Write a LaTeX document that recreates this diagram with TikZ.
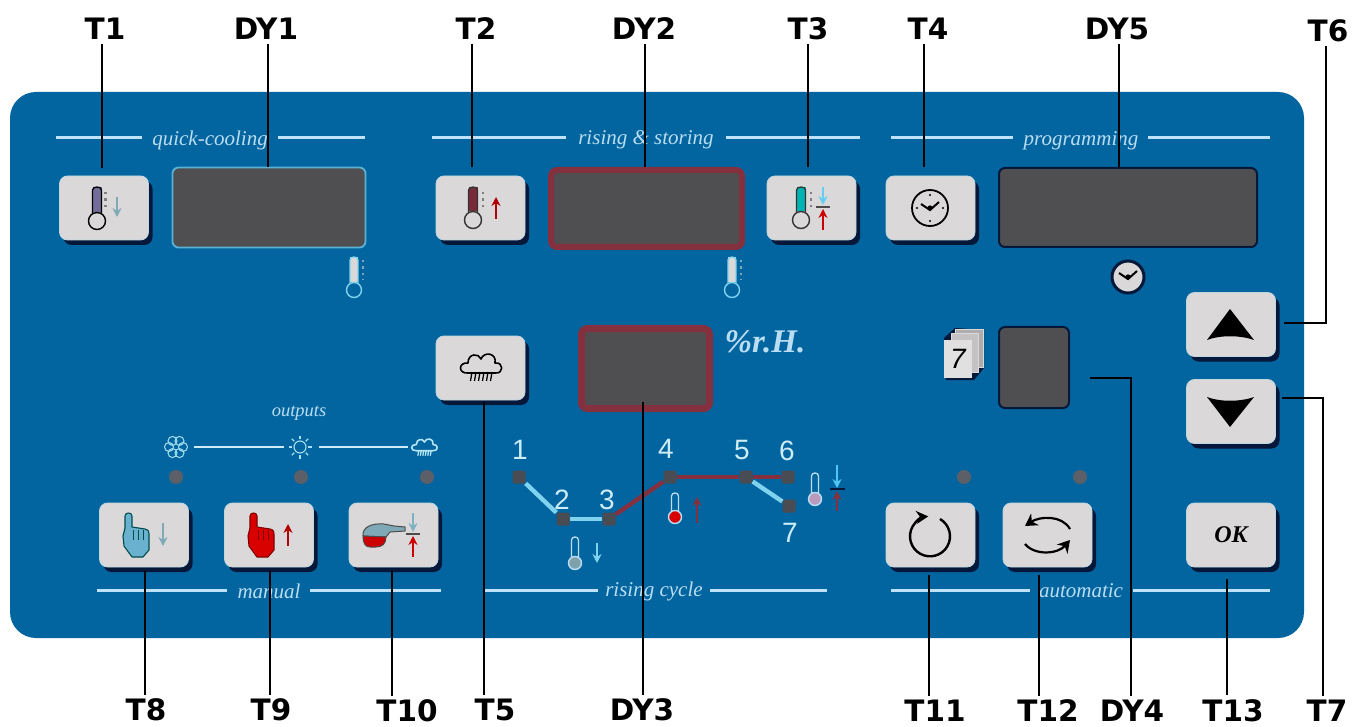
\documentclass[tikz,border=0pt]{standalone}
\usepackage{fontspec}
\setmainfont{Liberation Serif}
\newfontfamily\labfont{DejaVu Sans}
\newfontfamily\digfont{Liberation Sans}
\usetikzlibrary{shadows,arrows.meta}
\definecolor{panelc}{HTML}{03659F}
\definecolor{btnc}{HTML}{DAD8D9}
\definecolor{shc}{HTML}{06183A}
\definecolor{dispc}{HTML}{4F4F51}
\definecolor{linec}{HTML}{BDE2FA}
\definecolor{txtc}{HTML}{B9DDF2}
\definecolor{redd}{HTML}{84303F}
\definecolor{ledc}{HTML}{5D5F68}
\definecolor{cyanl}{HTML}{7FD3EE}
\tikzset{
  btn/.style={rectangle,rounded corners=8pt,minimum width=89pt,minimum height=64pt,inner sep=0pt,
    fill=btnc,draw=btnc!70!cyanl,line width=.8pt,
    drop shadow={shadow xshift=4pt,shadow yshift=-5pt,fill=shc,opacity=1}},
  disp/.style={rectangle,rounded corners=6pt,inner sep=0pt,fill=dispc},
  lab/.style={font=\labfont\bfseries\fontsize{29.5}{29.5}\selectfont,inner sep=0pt,outer sep=4pt,text=black},
  conn/.style={draw=black,line width=2.2pt},
  secline/.style={draw=linec,line width=3pt},
  sect/.style={font=\itshape\fontsize{21}{21}\selectfont,text=txtc,inner sep=0pt},
  led/.style={circle,fill=ledc,minimum size=14pt,inner sep=0pt},
  dot/.style={rectangle,rounded corners=2pt,fill=ledc!80!black,minimum size=13pt,inner sep=0pt},
  digit/.style={font=\digfont\fontsize{28}{28}\selectfont,text=cyanl!40!white,inner sep=0pt},
  cyc/.style={line width=4.4pt},
}
% bulb x, bulb y, bulb r, half tube, tube top, tube fill, outline, bulb fill
\newcommand\thermoicon[8]{%
  \fill[#6] (#1-#4,#2-#3) rectangle (#1+#4,#5);
  \draw[#7,line width=1.3pt] (#1-#4,#2-#3+1) -- (#1-#4,#5+3) .. controls (#1-#4,#5-1) and (#1+#4,#5-1) .. (#1+#4,#5+3) -- (#1+#4,#2-#3+1);
  \draw[#7,fill=#8,line width=1.4pt] (#1,#2) circle[radius=#3];
}
\newcommand\tickdots[4]{% x, y1, y2, colour
  \draw[#4,line width=2.4pt,dash pattern=on 2.5pt off 4pt] (#1,#2) -- (#1,#3);
}
\newcommand\varrow[4]{% colour, x, from, to
  \draw[#1,line width=1.5pt,-{Stealth[length=9pt,width=9pt]}] (#2,#3) -- (#2,#4);
}
\newcommand\cloudicon[4]{% x,y,scale,colour
  \begin{scope}[shift={(#1,#2)},scale=#3]
    \draw[#4,line width=1.6pt,line join=round] (-14,6) .. controls (-24,7) and (-24,-5) .. (-14,-4) .. controls (-14,-14) and (-3,-14) .. (-1,-8) .. controls (2,-16) and (15,-14) .. (13,-4) .. controls (22,-5) and (22,7) .. (13,6) -- (-14,6);
    \foreach \xx in {-10,-6,-2,2,6,10}
      \draw[#4,line width=1.3pt] (\xx,5) -- (\xx-1.5,14);
  \end{scope}
}
\newcommand\handicon[4]{% x,y,fill,outline
  \begin{scope}[shift={(#1,#2)}]
    \draw[#4,fill=#3,line width=1.1pt,line join=round] (-11,-14) -- (-11,-26) .. controls (-11,-30) and (-4,-30) .. (-4,-26) -- (-4,-15) -- (9,-13) .. controls (13,-12) and (13,-10) .. (13,-8) -- (13,8) -- (7,15) -- (-4,15) -- (-12,4) -- (-13,-6) -- cycle;
    \foreach \xx in {-3,2,7}
      \draw[#4,line width=1pt] (\xx,-12) -- (\xx,-2);
  \end{scope}
}
\newcommand\clockhands[3]{% x,y,colour
  \draw[#3,line width=2pt,line join=miter] (#1-9,#2-4) -- (#1,#2+2) -- (#1+9,#2-6);
  \fill[#3] (#1,#2) circle[radius=2.6];
  \foreach \aa in {0,90,180,270}
    \fill[#3] (#1,#2)++(\aa:13) circle[radius=1.2];
}
\begin{document}
\begin{tikzpicture}[x=1pt,y=-1pt]
\useasboundingbox (0,0) rectangle (1352,727);
\fill[white] (0,0) rectangle (1352,727);
\node[rectangle,rounded corners=26pt,fill=panelc,minimum width=1294pt,minimum height=546pt,inner sep=0pt] (panel) at (657,365) {};

% section rules and titles
\draw[secline] (56,138) -- (142,138) (278,138) -- (365,138);
\draw[secline] (432,138) -- (566,138) (726,138) -- (860,138);
\draw[secline] (891,138) -- (1013,138) (1148,138) -- (1270,138);
\draw[secline] (97,590) -- (227,590) (310,590) -- (441,590);
\draw[secline] (484,590) -- (598,590) (710,590) -- (827,590);
\draw[secline] (891,590) -- (1030,590) (1133,590) -- (1270,590);
\node[sect] (s1) at (210,140) {quick-cooling};
\node[sect] (s2) at (646,140) {rising \& storing};
\node[sect] (s3) at (1081,141) {programming};
\node[sect] (s4) at (269,591) {manual};
\node[sect] (s5) at (654,591) {rising cycle};
\node[sect] (s6) at (1081,591) {automatic};
\node[sect,font=\itshape\fontsize{18.5}{18.5}\selectfont] (s7) at (299,413) {outputs};
\node[font=\bfseries\itshape\fontsize{33}{33}\selectfont,text=txtc,inner sep=0pt] (rh) at (765,342) {\%r.H.};

% displays
\node[disp,draw=cyanl!70!panelc,line width=1.8pt,minimum width=193pt,minimum height=80pt] (DY1) at (269,207.5) {};
\node[disp,draw=redd,line width=6pt,minimum width=191pt,minimum height=77pt] (DY2) at (646.5,208.5) {};
\node[disp,draw=shc,line width=2pt,minimum width=258pt,minimum height=79pt] (DY5) at (1128,207.5) {};
\node[disp,draw=redd,line width=7pt,minimum width=128pt,minimum height=80pt] (DY3) at (645.5,368.5) {};
\node[disp,draw=shc,line width=2pt,minimum width=70pt,minimum height=81pt] (DY4) at (1034,367.5) {};

% buttons
\node[btn] (T1) at (104,208) {};
\node[btn] (T2) at (480.5,208) {};
\node[btn] (T3) at (811.5,208) {};
\node[btn] (T4) at (930.5,208) {};
\node[btn] (T5) at (480.5,368) {};
\node[btn] (T6) at (1231,324.5) {};
\node[btn] (T7) at (1231,411.5) {};
\node[btn] (T8) at (144,535) {};
\node[btn] (T9) at (269,535) {};
\node[btn] (T10) at (393.5,535) {};
\node[btn] (T11) at (930.5,535) {};
\node[btn] (T12) at (1047.5,535) {};
\node[btn,font=\bfseries\itshape\fontsize{24}{24}\selectfont] (T13) at (1231,535) {OK};

% button icons
\thermoicon{97}{221}{8.5}{4.5}{187}{cyan!10!blue!40!gray}{black}{btnc}
\tickdots{105.5}{192}{210}{gray}
\varrow{cyanl!50!gray}{117}{197}{217}

\thermoicon{473}{220}{8.5}{4.5}{187}{redd!90!black}{black!80}{btnc}
\tickdots{483}{192}{210}{gray}
\varrow{red!70!black}{496}{219}{197}

\thermoicon{801}{220}{8.5}{4.5}{187}{teal!60!cyan}{black!80}{btnc}
\tickdots{811}{192}{210}{gray}
\varrow{cyan!60!white}{823}{187}{205}
\draw[black!70,line width=1.4pt] (816,207) -- (830,207);
\varrow{red!80!black}{823}{230}{209}

\draw[black,line width=1.8pt] (930,208) circle[radius=18];
\clockhands{930}{208}{black}

\cloudicon{482}{367}{1}{black}

\fill[black] (1230,309) -- (1254,340) .. controls (1240,335) and (1220,335) .. (1207,340) -- cycle;
\fill[black] (1230,427) -- (1254,397) .. controls (1240,402) and (1220,402) .. (1207,397) -- cycle;

\handicon{136}{542}{cyan!45!teal!70!white}{teal!60!black}
\varrow{cyanl!50!gray}{163}{523}{546}
\handicon{261}{542}{red!85!black}{red!50!black}
\varrow{red!70!black}{288}{546}{524}

% pan-like hand of T10
\draw[black!70,fill=cyanl!50!gray,line width=1pt,line join=round] (363,536) .. controls (362,527) and (372,523) .. (384,524) -- (394,526) -- (405,527) -- (405,531) -- (390,532) -- (386,537) -- cycle;
\draw[black!70,fill=red!80!black,line width=1pt] (363,536) -- (386,537) .. controls (386,544) and (382,547) .. (376,547) -- (370,547) .. controls (365,547) and (363,543) .. (363,536) -- cycle;
\varrow{cyanl!60!gray}{413}{513}{532}
\draw[black!70,line width=1.4pt] (406,534) -- (420,534);
\varrow{red!80!black}{413}{557}{536}

\draw[black,line width=2.4pt,-{Stealth[length=12pt,width=13pt]}] (940,519) arc[start angle=-60,end angle=265,radius=20] ;
\draw[black,line width=2.2pt,-{Stealth[length=12pt,width=14pt]}] (1070,529) .. controls (1062,515) and (1040,516) .. (1025,526);
\draw[black,line width=2.2pt,-{Stealth[length=12pt,width=14pt]}] (1025,544) .. controls (1035,556) and (1058,554) .. (1070,540);

% status icons on the panel
\thermoicon{354}{290}{7.5}{4}{257}{btnc}{cyanl}{panelc}
\tickdots{363}{260}{280}{cyanl!50!gray}
\thermoicon{732}{290}{7.5}{4}{257}{btnc}{cyanl}{panelc}
\tickdots{741}{260}{280}{cyanl!50!gray}

\draw[shc,fill=btnc,line width=3pt] (1128,277) circle[radius=16];
\draw[black,line width=2pt] (1119,273) -- (1128,279) -- (1137,271);
\fill[black] (1128,277) circle[radius=2.6];

% page stack
\fill[shc] (946,380) -- (974,380) -- (984,368) -- (984,330) -- (955,328) -- (944,338) -- cycle;
\draw[btnc,fill=btnc!80!black,line width=.6pt] (955,329) rectangle (983,367);
\draw[btnc,fill=btnc!90!black,line width=.6pt] (951,333) rectangle (978,372);
\node[rectangle,fill=btnc!80!white,minimum width=28pt,minimum height=38pt,inner sep=0pt,font=\digfont\itshape\fontsize{28}{28}\selectfont] (page) at (958,359) {7};

% outputs
\draw[draw=cyanl!40!white,line width=2.6pt] (194,447) -- (284,447) (319,447) -- (408,447);
\foreach \aa in {0,60,...,300}
  \draw[cyanl!70!white,line width=1pt] (176,447)++(\aa:7) circle[radius=4.5];
\draw[cyanl!70!white,line width=1.1pt] (300,447) circle[radius=6];
\foreach \aa in {0,45,...,315}
  \draw[cyanl!70!white,line width=1.1pt] (300,447)++(\aa:8) -- ++(\aa:3.5);
\cloudicon{425}{447}{.62}{cyanl!60!white}
\node[led] (L1) at (176,477) {};
\node[led] (L2) at (301,477) {};
\node[led] (L3) at (427,477) {};
\node[led] (L4) at (964,477) {};
\node[led] (L5) at (1080,477) {};

% rising cycle
\node[dot] (n1) at (519,477) {};
\node[dot] (n2) at (563,519) {};
\node[dot] (n3) at (609,519) {};
\node[dot] (n4) at (670,477) {};
\node[dot] (n5) at (746,477) {};
\node[dot] (n6) at (788,477) {};
\node[dot] (n7) at (789,506) {};
\draw[cyc,cyanl] (n1) -- (n2);
\draw[cyc,cyanl] (n2) -- (n3);
\draw[cyc,redd] (n3) -- (n4);
\draw[cyc,redd] (n4) -- (n5);
\draw[cyc,redd] (n5) -- (n6);
\draw[cyc,cyanl] (n5) -- (n7);
\node[digit] (d1) at (520,450) {1};
\node[digit] (d2) at (562,500) {2};
\node[digit] (d3) at (607,500) {3};
\node[digit] (d4) at (666,449) {4};
\node[digit] (d5) at (742,450) {5};
\node[digit] (d6) at (787,451) {6};
\node[digit] (d7) at (790,533) {7};
\thermoicon{575}{563}{6.5}{3.5}{537}{panelc}{txtc}{cyanl!40!gray}
\varrow{cyanl}{597}{543}{563}
\thermoicon{675}{517}{6.5}{3.5}{493}{panelc}{txtc}{red!85!black}
\varrow{redd}{697}{523}{497}
\thermoicon{815}{499}{6.5}{3.5}{473}{panelc}{txtc}{txtc!70!purple}
\varrow{cyan!70!white}{837}{465}{488}
\draw[shc,line width=1.4pt] (830,489) -- (845,489);
\varrow{redd}{837}{511}{491}

% callout labels
\node[lab] (lT1) at (105,29) {T1};
\node[lab] (lDY1) at (266,29) {DY1};
\node[lab] (lT2) at (476,29) {T2};
\node[lab] (lDY2) at (644,29) {DY2};
\node[lab] (lT3) at (808,29) {T3};
\node[lab] (lT4) at (928,29) {T4};
\node[lab] (lDY5) at (1117,29) {DY5};
\node[lab] (lT6) at (1328,31) {T6};
\node[lab] (lT8) at (146,710) {T8};
\node[lab] (lT9) at (271,710) {T9};
\node[lab] (lT10) at (407,711) {T10};
\node[lab] (lT5) at (495,710) {T5};
\node[lab] (lDY3) at (642,710) {DY3};
\node[lab] (lT11) at (935,710.5) {T11};
\node[lab] (lT12) at (1048,710.5) {T12};
\node[lab] (lDY4) at (1132,711) {DY4};
\node[lab] (lT13) at (1233,710.5) {T13};
\node[lab] (lT7) at (1327,710.5) {T7};

% connector ends next to the panel parts
\coordinate (cT1) at (102,168);
\coordinate (cDY1) at (268,167);
\coordinate (cT2) at (472,167);
\coordinate (cDY2) at (645,167);
\coordinate (cT3) at (808,167);
\coordinate (cT4) at (924,167);
\coordinate (cDY5) at (1119,167);
\coordinate (cT8) at (145,571);
\coordinate (cT9) at (270,571);
\coordinate (cT10) at (392,571);
\coordinate (cT5) at (484,402);
\coordinate (cDY3) at (643,402);
\coordinate (cT11) at (929,575);
\coordinate (cT12) at (1039,575);
\coordinate (cT13) at (1227,579);
\coordinate (cT6) at (1284,323);
\coordinate (kT6) at (1326,323);
\coordinate (cT7) at (1282,398);
\coordinate (kT7) at (1323,398);
\coordinate (cDY4) at (1090,378);
\coordinate (kDY4) at (1131,378);

\foreach \nm in {T1,DY1,T2,DY2,T3,T4,DY5}{
  \draw[conn] (c\nm |- l\nm.south) -- (c\nm);
}
\foreach \nm in {T8,T9,T10,T5,DY3,T11,T12,T13}{
  \draw[conn] (c\nm |- l\nm.north) -- (c\nm);
}
\draw[conn] (cT6) -- (kT6) -- (kT6 |- lT6.south);
\draw[conn] (cT7) -- (kT7) -- (kT7 |- lT7.north);
\draw[conn] (cDY4) -- (kDY4) -- (kDY4 |- lDY4.north);
\end{tikzpicture}
\end{document}
